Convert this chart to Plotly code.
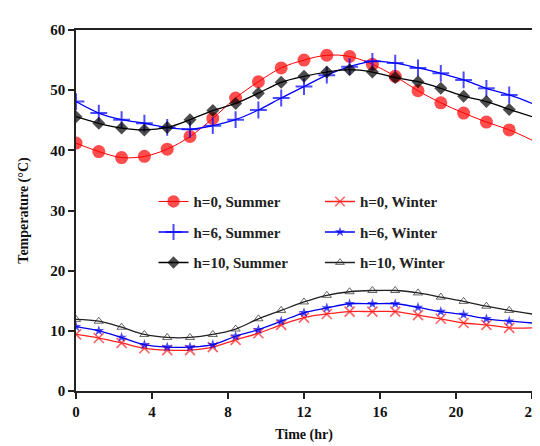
import plotly.graph_objects as go

time_hr = [0, 1.2, 2.4, 3.6, 4.8, 6.0, 7.2, 8.4, 9.6, 10.8, 12.0, 13.2, 14.4,
           15.6, 16.8, 18.0, 19.2, 20.4, 21.6, 22.8, 24.0]

summer_h0 = [41.2, 39.8, 38.8, 39.0, 40.2, 42.3, 45.3, 48.7, 51.4, 53.7, 55.0,
             55.8, 55.6, 54.3, 52.3, 49.9, 47.9, 46.2, 44.7, 43.4, 41.7]
summer_h6 = [48.1, 46.2, 45.1, 44.5, 43.8, 43.5, 44.1, 45.1, 46.7, 48.7, 50.6,
             52.5, 53.9, 54.8, 54.5, 53.7, 52.8, 51.7, 50.3, 49.2, 47.8]
summer_h10 = [45.6, 44.5, 43.7, 43.4, 43.8, 45.1, 46.6, 47.8, 49.5, 51.3, 52.3,
              53.0, 53.4, 53.0, 52.1, 51.4, 50.3, 49.0, 48.1, 46.8, 45.6]
winter_h0 = [9.4, 8.8, 8.0, 7.1, 6.8, 6.8, 7.3, 8.5, 9.6, 11.0, 12.2,
             12.8, 13.2, 13.2, 13.2, 12.6, 12.0, 11.3, 11.0, 10.5, 10.5]
winter_h6 = [10.7, 10.0, 8.9, 7.7, 7.3, 7.3, 7.7, 9.1, 10.2, 11.6, 13.0,
             13.8, 14.5, 14.5, 14.5, 13.9, 13.2, 12.7, 12.0, 11.6, 11.3]
winter_h10 = [11.9, 11.6, 10.6, 9.4, 8.9, 8.9, 9.4, 10.3, 12.0, 13.4, 14.8,
              15.9, 16.5, 16.7, 16.7, 16.3, 15.6, 14.9, 14.1, 13.4, 12.8]

series_names = ["h=0, Summer", "h=6, Summer", "h=10, Summer",
                "h=0, Winter", "h=6, Winter", "h=10, Winter"]

x_ticks = [0, 4, 8, 12, 16, 20, 24]
y_ticks = [0, 10, 20, 30, 40, 50, 60]

FONT = "Liberation Serif"

def sizes(s):
    return [s] * (len(time_hr) - 1) + [0]

styles = [
    dict(data=summer_h0, color="#ff0000", symbol="circle", size=13, lw=1.0,
         mline=dict(color="#ff3030", width=0), legend="legend"),
    dict(data=summer_h6, color="#0000ff", symbol="cross-thin", size=12, lw=1.3,
         mline=dict(color="#0000ff", width=2), legend="legend"),
    dict(data=summer_h10, color="#000000", symbol="diamond", size=10, lw=1.3,
         mline=dict(color="#000000", width=0), legend="legend"),
    dict(data=winter_h0, color="#ff2020", symbol="x-thin", size=10, lw=1.3,
         mline=dict(color="#ff2020", width=1.6), legend="legend2"),
    dict(data=winter_h6, color="#0000ee", symbol="star", size=8, lw=1.3,
         mline=dict(color="#0000ee", width=0), legend="legend2"),
    dict(data=winter_h10, color="#222222", symbol="triangle-up-open", size=8, lw=1.3,
         mline=dict(color="#444444", width=1), legend="legend2"),
]

fig = go.Figure()
for i, (name, st) in enumerate(zip(series_names, styles)):
    fig.add_trace(go.Scatter(
        x=time_hr, y=st["data"], name=name, mode="lines+markers",
        line=dict(color=st["color"], width=st["lw"], shape="spline"),
        marker=dict(symbol=st["symbol"], size=sizes(st["size"]),
                    color=st["color"], line=st["mline"]),
        legend=st["legend"], legendgroup=f"g{i}",
    ))

legend_common = dict(
    font=dict(family=FONT, size=15, color="#222222", weight="bold"),
    bgcolor="rgba(0,0,0,0)", borderwidth=0, tracegroupgap=8,
    xanchor="left", yanchor="top", itemwidth=30,
)

fig.update_layout(
    width=540, height=446,
    margin=dict(l=68, r=8, t=22, b=63),
    paper_bgcolor="white", plot_bgcolor="white",
    showlegend=True,
    legend=dict(x=0.17, y=0.57, **legend_common),
    legend2=dict(x=0.535, y=0.57, **legend_common),
    font=dict(family=FONT, color="#111111"),
)

fig.update_xaxes(
    range=[0, 24], tickvals=x_ticks, ticktext=[str(v) for v in x_ticks],
    showgrid=False, zeroline=False, showline=True, linecolor="#222222", linewidth=1.5,
    mirror=True, ticks="outside", ticklen=6, tickwidth=1.5, tickcolor="#222222",
    tickfont=dict(family=FONT, size=15, color="#111111", weight="bold"),
    title=dict(text="<b>Time (hr)</b>", font=dict(family=FONT, size=14, color="#111111"),
               standoff=10),
)
fig.update_yaxes(
    range=[0, 60], tickvals=y_ticks, ticktext=[str(v) for v in y_ticks],
    showgrid=False, zeroline=False, showline=True, linecolor="#222222", linewidth=1.5,
    mirror=True, ticks="outside", ticklen=6, tickwidth=1.5, tickcolor="#222222",
    tickfont=dict(family=FONT, size=15, color="#111111", weight="bold"),
    title=dict(text="<b>Temperature (°C)</b>", font=dict(family=FONT, size=14, color="#111111"),
               standoff=18),
)

fig.write_html("out.html")
